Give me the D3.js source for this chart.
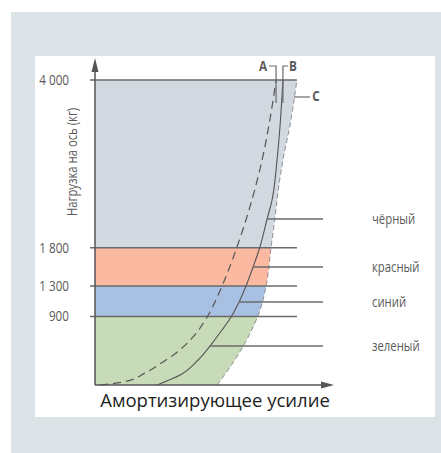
<!DOCTYPE html>
<html>
<head>
<meta charset="utf-8">
<script src="https://cdn.jsdelivr.net/npm/d3@7"></script>
<style>
  html, body { margin: 0; padding: 0; background: #fff; }
  svg { display: block; }
  .narrow { font-family: 'Open Sans', 'Noto Sans', sans-serif; }
</style>
</head>
<body>
<div id="chart"></div>
<script>
// Load classes (kg per axle) and their colour names
const bandLimits = [0, 900, 1300, 1800, 4000];
const bandNames = ['зеленый', 'синий', 'красный', 'чёрный'];
const loadTicks = [900, 1300, 1800, 4000];
const loadTickLabels = ['900', '1 300', '1 800', '4 000'];

// Load at which each colour name is attached to curve B
const nameLoads = [511, 1089, 1548, 2177];

// Characteristic curves: [damping force (relative), axle load (kg)]
const curveA = [[2.1, 0], [11.8, 39], [21.1, 157], [28.7, 302], [34.2, 420], [41.4, 630],
  [47.3, 892], [53.6, 1298], [59.9, 1810], [66.2, 2426], [70.5, 2951], [73.4, 3410], [76.4, 4000]];
const curveB = [[26.2, 0], [35.9, 131], [43.5, 328], [48.5, 511], [53.6, 721], [57.4, 892],
  [60.8, 1089], [63.7, 1298], [66.7, 1548], [69.6, 1810], [72.6, 2177], [74.7, 2426],
  [76.8, 2951], [78.1, 3410], [79.3, 4000]];
const curveC = [[51.5, 0], [57.0, 236], [63.3, 551], [66.7, 761], [69.2, 944], [72.2, 1298],
  [74.3, 1810], [75.9, 2177], [76.8, 2426], [79.3, 2951], [82.3, 3410], [85.2, 4000]];

const curveLabels = ['A', 'B', 'C'];
const xTitle = 'Амортизирующее усилие';
const yTitle = 'Нагрузка на ось (кг)';

// Colours
const bandColors = ['#c8dbb8', '#a8c0e1', '#fab9a0', '#d2d9e1'];
const axisColor = '#555';
const lineColor = '#6a6a6a';
const textColor = '#5a5a5a';

// Condensed lettering: regular face squeezed horizontally
const SQUEEZE = 0.78;

const W = 441, H = 453;
const svg = d3.select('#chart').append('svg').attr('width', W).attr('height', H);

// Panels
svg.append('rect').attr('x', 11).attr('y', 12).attr('width', W - 11).attr('height', H - 12).attr('fill', '#dce3e6');
svg.append('rect').attr('x', 35).attr('y', 56).attr('width', 400).attr('height', 361).attr('fill', '#ffffff');

const x = d3.scaleLinear().domain([0, 100]).range([95, 332]);
const y = d3.scaleLinear().domain([0, 4000]).range([385, 80]);

const smooth = d3.curveMonotoneY;
const line = d3.line().x(d => x(d[0])).y(d => y(d[1])).curve(smooth);

// Region under curve C, used to clip the coloured bands
const areaC = d3.area()
  .y(d => y(d[1]))
  .x0(x(0))
  .x1(d => x(d[0]))
  .curve(smooth);

const defs = svg.append('defs');
defs.append('clipPath').attr('id', 'underC')
  .append('path').attr('d', areaC(curveC));

const bands = d3.range(bandNames.length).map(i => ({ lo: bandLimits[i], hi: bandLimits[i + 1], i }));
svg.append('g').attr('clip-path', 'url(#underC)')
  .selectAll('rect').data(bands).join('rect')
  .attr('x', x(0))
  .attr('y', d => y(d.hi))
  .attr('width', x(100) - x(0))
  .attr('height', d => y(d.lo) - y(d.hi))
  .attr('fill', d => bandColors[d.i]);

// Horizontal class boundaries and ticks
const cTop = curveC[curveC.length - 1][0];
svg.append('g').selectAll('line').data(loadTicks).join('line')
  .attr('x1', x(0) - 5).attr('x2', x(cTop))
  .attr('y1', d => y(d)).attr('y2', d => y(d))
  .attr('stroke', lineColor).attr('stroke-width', 1.5);

// Curves
svg.append('path').attr('d', line(curveC)).attr('fill', 'none')
  .attr('stroke', '#7a7a7a').attr('stroke-width', 1).attr('stroke-dasharray', '5,3').attr('opacity', 0.8);
svg.append('path').attr('d', line(curveA)).attr('fill', 'none')
  .attr('stroke', '#555').attr('stroke-width', 1.2).attr('stroke-dasharray', '8,5');
svg.append('path').attr('d', line(curveB)).attr('fill', 'none')
  .attr('stroke', '#555').attr('stroke-width', 1.1);

// Leader lines from curve B to the colour names
const bAt = load => curveB.find(p => p[1] === load)[0];
const leaderEnd = 323;
svg.append('g').selectAll('line').data(nameLoads).join('line')
  .attr('x1', d => x(bAt(d))).attr('x2', leaderEnd)
  .attr('y1', d => y(d)).attr('y2', d => y(d))
  .attr('stroke', lineColor).attr('stroke-width', 1.5);

svg.append('g').selectAll('text').data(nameLoads).join('text')
  .attr('class', 'narrow')
  .attr('transform', d => `translate(372,${y(d) + 5}) scale(${SQUEEZE},1)`)
  .attr('font-size', 14.5).attr('fill', textColor)
  .text((d, i) => bandNames[i]);

// Axes with arrowheads
svg.append('line').attr('x1', x(0)).attr('x2', x(0)).attr('y1', y(0)).attr('y2', 66)
  .attr('stroke', axisColor).attr('stroke-width', 1.5);
svg.append('path').attr('d', `M${x(0)},58 L${x(0) - 3.5},72 L${x(0) + 3.5},72 Z`).attr('fill', axisColor);
svg.append('line').attr('x1', x(0)).attr('x2', 326).attr('y1', y(0)).attr('y2', y(0))
  .attr('stroke', axisColor).attr('stroke-width', 1.5);
svg.append('path').attr('d', `M334,${y(0)} L321,${y(0) - 3.5} L321,${y(0) + 3.5} Z`).attr('fill', axisColor);

// Tick labels
svg.append('g').selectAll('text').data(loadTicks).join('text')
  .attr('class', 'narrow')
  .attr('transform', d => `translate(69,${y(d) + 5}) scale(${SQUEEZE},1)`)
  .attr('text-anchor', 'end')
  .attr('font-size', 15).attr('fill', textColor)
  .text((d, i) => loadTickLabels[i]);

// Axis titles
svg.append('text').attr('class', 'narrow')
  .attr('transform', `translate(77,162) rotate(-90) scale(${SQUEEZE},1)`)
  .attr('text-anchor', 'middle').attr('font-size', 14.5).attr('fill', textColor)
  .text(yTitle);

svg.append('text')
  .attr('x', 215).attr('y', 407)
  .attr('text-anchor', 'middle')
  .attr('font-family', "'Open Sans', sans-serif")
  .attr('font-size', 18.5).attr('fill', '#1e1e1e')
  .text(xTitle);

// Curve labels A, B, C with their brackets
const aTop = x(curveA[curveA.length - 1][0]);
const bTop = x(curveB[curveB.length - 1][0]);
const cTopX = x(cTop);
const lbl = svg.append('g').attr('class', 'narrow').attr('font-size', 15)
  .attr('font-weight', 'bold').attr('fill', textColor);
lbl.append('text').attr('transform', `translate(263,71) scale(${SQUEEZE},1)`).attr('text-anchor', 'middle').text(curveLabels[0]);
lbl.append('text').attr('transform', `translate(293,71) scale(${SQUEEZE},1)`).attr('text-anchor', 'middle').text(curveLabels[1]);
lbl.append('text').attr('transform', `translate(316,101) scale(${SQUEEZE},1)`).attr('text-anchor', 'middle').text(curveLabels[2]);

const br = svg.append('g').attr('fill', 'none').attr('stroke', lineColor).attr('stroke-width', 1.2);
br.append('path').attr('d', `M269,66 H${aTop} V${y(3700)}`);
br.append('path').attr('d', `M288,66 H${bTop} V${y(3700)}`);
br.append('path').attr('d', `M${cTopX - 3},97 H310`);
</script>
</body>
</html>
